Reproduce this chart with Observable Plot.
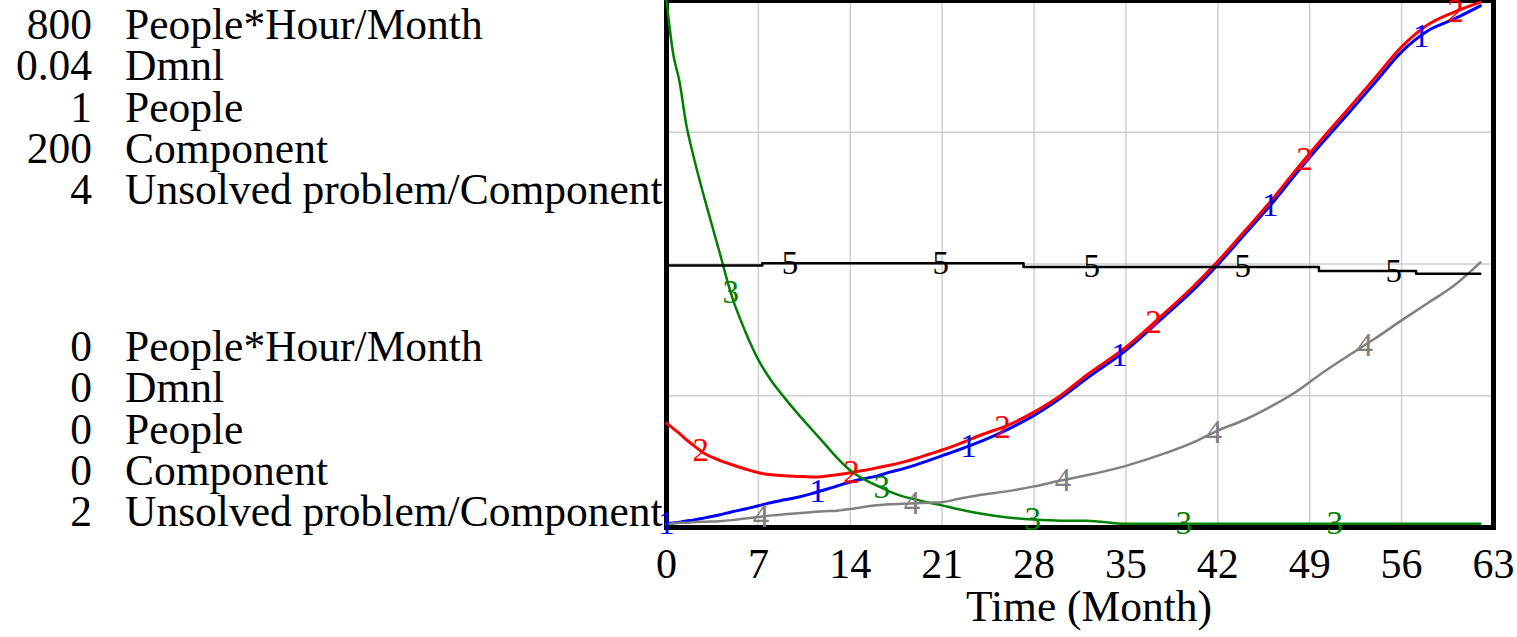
<!DOCTYPE html>
<html><head><meta charset="utf-8">
<script src="https://cdn.jsdelivr.net/npm/d3@7"></script>
<script src="https://cdn.jsdelivr.net/npm/@observablehq/plot@0.6"></script>
<style>
html,body{margin:0;padding:0;background:#fff;}
#wrap{position:relative;width:1517px;height:637px;overflow:hidden;font-family:"Liberation Serif","Times New Roman",serif;color:#000;}
#chart{position:absolute;left:0;top:0;}
.scales{position:absolute;left:0;font-size:43.5px;line-height:41.3px;white-space:nowrap;}
.scales .row{display:flex;}
.scales .num{width:92px;text-align:right;}
.scales .unit{margin-left:33px;}
</style></head><body>
<div id="wrap"><div id="chart"></div><div class="scales" id="scaleTop" style="top:4px"></div><div class="scales" id="scaleBottom" style="top:326px"></div></div>
<script>
// ---- data ----
const months = [0,0.5,1,1.5,2,3,4,5,6,7,8,9,10,11,12,13,14,15,16,17,18,19,20,21,22,24,26,28,30,32,35,38,40,42,44,46,48,50,52,54,56,58,60,62];
// series 1 : People*Hour/Month
const series1 = [6,7,8,10,11,15,19,24,28,33,38,42,46,51,57,63,69,74,78,84,89,95,102,109,116,131,149,170,196,226,269,322,358,399,444,489,538,585,630,676,722,754,772,792];
// series 2 : Dmnl
const series2 = [0.00792,0.00752,0.00712,0.00668,0.00628,0.00556,0.00512,0.00476,0.00444,0.00416,0.0040,0.00392,0.00388,0.00384,0.00388,0.0040,0.00416,0.00432,0.00452,0.00472,0.00496,0.00524,0.00556,0.00588,0.00624,0.00704,0.00776,0.00876,0.0100,0.01156,0.01368,0.01632,0.01816,0.0202,0.02244,0.02472,0.0272,0.02956,0.03184,0.03416,0.03648,0.03816,0.03912,0.03988];
// series 3 : People
const series3 = [1.0,0.90,0.845,0.765,0.71,0.615,0.526,0.437,0.372,0.318,0.278,0.246,0.216,0.188,0.160,0.132,0.108,0.092,0.080,0.068,0.059,0.053,0.047,0.042,0.036,0.026,0.019,0.015,0.013,0.013,0.007,0.007,0.007,0.007,0.007,0.007,0.007,0.007,0.007,0.007,0.007,0.007,0.007,0.007];
// series 4 : Component
const series4 = [1.2,1.6,1.8,1.8,2.0,2.2,2.4,2.8,3.4,4.0,4.6,5.0,5.4,5.8,6.2,6.4,7.0,7.8,8.4,8.8,9.0,9.2,9.4,9.6,10.6,12.4,13.8,15.6,17.8,19.8,23.4,28.2,32.0,36.8,40.8,45.8,51.6,58.8,65.4,71.8,78.6,85.2,91.8,100.6];
// series 5 : Unsolved problem/Component (stepwise)
const series5Months = [0,7.3,27.2,49.7,57.1,62];
const series5 = [2.994,3.003,2.989,2.973,2.963,2.963];

const seriesIds = ["1","2","3","4","5"];
const seriesColors = ["#0000ff","#ff0000","#008000","#808080","#000000"];
const seriesWidths = [3,3,2.5,2.5,2.5];
const scaleUnits = ["People*Hour/Month","Dmnl","People","Component","Unsolved problem/Component"];
const scaleMax = [800,0.04,1,200,4];
const scaleMaxLabels = ["800","0.04","1","200","4"];
const scaleMin = [0,0,0,0,2];
const scaleMinLabels = ["0","0","0","0","2"];
const xTicks = [0,7,14,21,28,35,42,49,56,63];
const yGrid = [0.25,0.5,0.75];
const labelStart = [0,2.6,4.9,7.2,9.4];
const labelSpacing = 11.5;
const lastMonth = 62;
const xLabel = "Time (Month)";

// ---- build tables ----
const seriesX = [months,months,months,months,series5Months];
const seriesY = [series1,series2,series3,series4,series5];
const norm = (v,i) => (v - scaleMin[i]) / (scaleMax[i] - scaleMin[i]);
const tables = seriesY.map((ys,i) => ys.map((v,j) => ({month: seriesX[i][j], y: norm(v,i), id: seriesIds[i]})));

function valueAt(i, t) {
  const xs = seriesX[i], ys = seriesY[i];
  if (i === 4) { let k = 0; for (let j = 0; j < xs.length; j++) if (xs[j] <= t) k = j; return ys[k]; }
  for (let j = 0; j < xs.length - 1; j++) {
    if (t >= xs[j] && t <= xs[j+1]) { const f = (t - xs[j]) / (xs[j+1] - xs[j]); return ys[j] + f*(ys[j+1]-ys[j]); }
  }
  return ys[ys.length-1];
}
const labelRows = [];
seriesIds.forEach((id,i) => {
  for (let t = labelStart[i]; t <= lastMonth; t += labelSpacing) labelRows.push({month: t, y: norm(valueAt(i,t), i), id, color: seriesColors[i]});
});

const lineMarks = tables.map((tb,i) => Plot.line(tb, {x:"month", y:"y", stroke: seriesColors[i], strokeWidth: seriesWidths[i], curve: i === 4 ? "step-after" : "monotone-x"}));

const chart = Plot.plot({
  width: 1517, height: 637,
  marginLeft: 666, marginRight: 24, marginTop: 0, marginBottom: 110,
  style: {fontFamily: '"Liberation Serif","Times New Roman",serif', fontSize: "42px", color: "#000", background: "transparent", overflow: "visible"},
  x: {domain: [0,63], ticks: xTicks, tickSize: 0, tickPadding: 21, label: null, tickFormat: d => String(d)},
  y: {domain: [0,1], axis: null},
  marks: [
    Plot.ruleX(xTicks, {stroke: "#cfcfcf", strokeWidth: 1.5}),
    Plot.ruleY(yGrid, {stroke: "#cfcfcf", strokeWidth: 1.5}),
    Plot.frame({stroke: "#000", strokeWidth: 5}),
    ...lineMarks,
    Plot.text(labelRows, {x:"month", y:"y", text:"id", fill:"color", fontSize: 33, fontFamily: '"Liberation Serif",serif', textAnchor: "middle", lineAnchor: "middle"}),
    Plot.text([xLabel], {frameAnchor: "bottom", text: d => d, dy: 80, dx: 9, fontSize: 43.5, lineAnchor: "middle"})
  ]
});
document.getElementById("chart").appendChild(chart);

function fillScales(el, labels) {
  labels.forEach((n,i) => {
    const row = document.createElement("div"); row.className = "row";
    const a = document.createElement("span"); a.className = "num"; a.textContent = n;
    const b = document.createElement("span"); b.className = "unit"; b.textContent = scaleUnits[i];
    row.appendChild(a); row.appendChild(b); el.appendChild(row);
  });
}
fillScales(document.getElementById("scaleTop"), scaleMaxLabels);
fillScales(document.getElementById("scaleBottom"), scaleMinLabels);
</script>
</body></html>
